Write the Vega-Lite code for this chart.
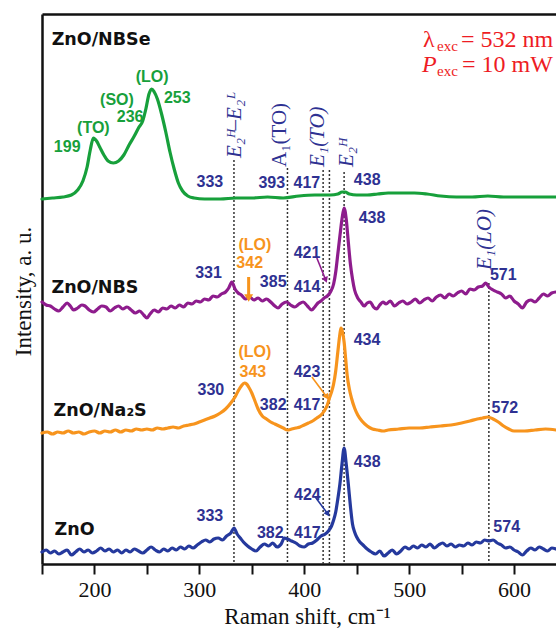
{
"$schema": "https://vega.github.io/schema/vega-lite/v6.json",
"width": 514, "height": 550,
"autosize": {"type": "none"},
"padding": {"left": 42, "top": 14, "right": 0, "bottom": 67},
"background": "white",
"config": {"view": {"stroke": null}, "axis": {"grid": false}},
"datasets": {
"spectra": [
{"g":"NBSe","x":150,"y":365},{"g":"NBSe","x":160,"y":366},{"g":"NBSe","x":170,"y":367},{"g":"NBSe","x":178,"y":369},{"g":"NBSe","x":184,"y":374},{"g":"NBSe","x":189,"y":383},{"g":"NBSe","x":193,"y":397},{"g":"NBSe","x":196,"y":414},{"g":"NBSe","x":199,"y":426},{"g":"NBSe","x":202,"y":423},{"g":"NBSe","x":205,"y":417},{"g":"NBSe","x":209,"y":409},{"g":"NBSe","x":213,"y":403},{"g":"NBSe","x":218,"y":401},{"g":"NBSe","x":223,"y":403},{"g":"NBSe","x":228,"y":409},{"g":"NBSe","x":233,"y":419},{"g":"NBSe","x":238,"y":428},{"g":"NBSe","x":242,"y":436},{"g":"NBSe","x":246,"y":443},{"g":"NBSe","x":249,"y":455},{"g":"NBSe","x":252,"y":470},{"g":"NBSe","x":254.5,"y":475},{"g":"NBSe","x":257,"y":472},{"g":"NBSe","x":260,"y":465},{"g":"NBSe","x":264,"y":450},{"g":"NBSe","x":268,"y":432},{"g":"NBSe","x":272,"y":412},{"g":"NBSe","x":276,"y":395},{"g":"NBSe","x":280,"y":381},{"g":"NBSe","x":284,"y":373},{"g":"NBSe","x":289,"y":368},{"g":"NBSe","x":295,"y":366},{"g":"NBSe","x":305,"y":365},{"g":"NBSe","x":320,"y":365},{"g":"NBSe","x":335,"y":366},{"g":"NBSe","x":350,"y":366},{"g":"NBSe","x":365,"y":367},{"g":"NBSe","x":380,"y":366},{"g":"NBSe","x":395,"y":368},{"g":"NBSe","x":410,"y":369},{"g":"NBSe","x":425,"y":369},{"g":"NBSe","x":432,"y":370},{"g":"NBSe","x":436,"y":372},{"g":"NBSe","x":439,"y":372},{"g":"NBSe","x":443,"y":370},{"g":"NBSe","x":450,"y":369},{"g":"NBSe","x":460,"y":369},{"g":"NBSe","x":470,"y":370},{"g":"NBSe","x":480,"y":371},{"g":"NBSe","x":492,"y":371},{"g":"NBSe","x":505,"y":371},{"g":"NBSe","x":517,"y":370},{"g":"NBSe","x":530,"y":368},{"g":"NBSe","x":545,"y":367},{"g":"NBSe","x":560,"y":367},{"g":"NBSe","x":575,"y":368},{"g":"NBSe","x":590,"y":367},{"g":"NBSe","x":605,"y":367},{"g":"NBSe","x":620,"y":367},{"g":"NBSe","x":640,"y":367},
{"g":"NBS","x":150,"y":262},{"g":"NBS","x":154,"y":259},{"g":"NBS","x":158,"y":258},{"g":"NBS","x":162,"y":255},{"g":"NBS","x":166,"y":253},{"g":"NBS","x":170,"y":257},{"g":"NBS","x":174,"y":261},{"g":"NBS","x":177,"y":258},{"g":"NBS","x":180,"y":254},{"g":"NBS","x":184,"y":256},{"g":"NBS","x":188,"y":259},{"g":"NBS","x":191,"y":258},{"g":"NBS","x":195,"y":254},{"g":"NBS","x":199,"y":252},{"g":"NBS","x":203,"y":255},{"g":"NBS","x":207,"y":258},{"g":"NBS","x":211,"y":257},{"g":"NBS","x":215,"y":253},{"g":"NBS","x":219,"y":256},{"g":"NBS","x":223,"y":258},{"g":"NBS","x":227,"y":255},{"g":"NBS","x":231,"y":257},{"g":"NBS","x":235,"y":254},{"g":"NBS","x":239,"y":251},{"g":"NBS","x":243,"y":253},{"g":"NBS","x":247,"y":249},{"g":"NBS","x":250,"y":246},{"g":"NBS","x":253,"y":250},{"g":"NBS","x":257,"y":254},{"g":"NBS","x":261,"y":252},{"g":"NBS","x":265,"y":256},{"g":"NBS","x":269,"y":255},{"g":"NBS","x":273,"y":258},{"g":"NBS","x":277,"y":256},{"g":"NBS","x":281,"y":259},{"g":"NBS","x":285,"y":257},{"g":"NBS","x":289,"y":261},{"g":"NBS","x":293,"y":260},{"g":"NBS","x":297,"y":263},{"g":"NBS","x":301,"y":262},{"g":"NBS","x":305,"y":265},{"g":"NBS","x":309,"y":264},{"g":"NBS","x":313,"y":268},{"g":"NBS","x":317,"y":267},{"g":"NBS","x":321,"y":270},{"g":"NBS","x":325,"y":272},{"g":"NBS","x":328,"y":276},{"g":"NBS","x":331,"y":282},{"g":"NBS","x":334,"y":275},{"g":"NBS","x":337,"y":271},{"g":"NBS","x":340,"y":269},{"g":"NBS","x":344,"y":265},{"g":"NBS","x":348,"y":267},{"g":"NBS","x":352,"y":264},{"g":"NBS","x":356,"y":266},{"g":"NBS","x":360,"y":263},{"g":"NBS","x":364,"y":265},{"g":"NBS","x":368,"y":262},{"g":"NBS","x":372,"y":258},{"g":"NBS","x":375,"y":256},{"g":"NBS","x":379,"y":260},{"g":"NBS","x":383,"y":262},{"g":"NBS","x":387,"y":259},{"g":"NBS","x":391,"y":257},{"g":"NBS","x":395,"y":260},{"g":"NBS","x":399,"y":262},{"g":"NBS","x":403,"y":258},{"g":"NBS","x":407,"y":254},{"g":"NBS","x":410,"y":257},{"g":"NBS","x":413,"y":261},{"g":"NBS","x":416,"y":263},{"g":"NBS","x":419,"y":266},{"g":"NBS","x":422,"y":268},{"g":"NBS","x":425,"y":272},{"g":"NBS","x":428,"y":280},{"g":"NBS","x":430,"y":292},{"g":"NBS","x":432,"y":310},{"g":"NBS","x":434,"y":328},{"g":"NBS","x":436,"y":345},{"g":"NBS","x":438,"y":356},{"g":"NBS","x":440,"y":345},{"g":"NBS","x":442,"y":322},{"g":"NBS","x":444,"y":300},{"g":"NBS","x":446,"y":285},{"g":"NBS","x":448,"y":274},{"g":"NBS","x":451,"y":266},{"g":"NBS","x":454,"y":262},{"g":"NBS","x":457,"y":258},{"g":"NBS","x":460,"y":261},{"g":"NBS","x":463,"y":262},{"g":"NBS","x":466,"y":257},{"g":"NBS","x":469,"y":255},{"g":"NBS","x":472,"y":259},{"g":"NBS","x":475,"y":262},{"g":"NBS","x":478,"y":260},{"g":"NBS","x":482,"y":263},{"g":"NBS","x":486,"y":258},{"g":"NBS","x":490,"y":261},{"g":"NBS","x":494,"y":263},{"g":"NBS","x":498,"y":260},{"g":"NBS","x":502,"y":262},{"g":"NBS","x":506,"y":265},{"g":"NBS","x":510,"y":261},{"g":"NBS","x":514,"y":264},{"g":"NBS","x":518,"y":266},{"g":"NBS","x":522,"y":263},{"g":"NBS","x":526,"y":267},{"g":"NBS","x":530,"y":269},{"g":"NBS","x":534,"y":266},{"g":"NBS","x":538,"y":270},{"g":"NBS","x":542,"y":268},{"g":"NBS","x":546,"y":271},{"g":"NBS","x":550,"y":273},{"g":"NBS","x":554,"y":270},{"g":"NBS","x":558,"y":275},{"g":"NBS","x":562,"y":274},{"g":"NBS","x":566,"y":277},{"g":"NBS","x":570,"y":278},{"g":"NBS","x":573,"y":281},{"g":"NBS","x":576,"y":277},{"g":"NBS","x":580,"y":274},{"g":"NBS","x":584,"y":272},{"g":"NBS","x":588,"y":270},{"g":"NBS","x":592,"y":266},{"g":"NBS","x":596,"y":268},{"g":"NBS","x":600,"y":263},{"g":"NBS","x":604,"y":260},{"g":"NBS","x":608,"y":256},{"g":"NBS","x":612,"y":262},{"g":"NBS","x":616,"y":264},{"g":"NBS","x":620,"y":262},{"g":"NBS","x":624,"y":266},{"g":"NBS","x":628,"y":270},{"g":"NBS","x":632,"y":268},{"g":"NBS","x":636,"y":271},{"g":"NBS","x":640,"y":272},
{"g":"Na2S","x":150,"y":131},{"g":"Na2S","x":155,"y":132},{"g":"Na2S","x":160,"y":130},{"g":"Na2S","x":165,"y":132},{"g":"Na2S","x":170,"y":131},{"g":"Na2S","x":175,"y":133},{"g":"Na2S","x":180,"y":131},{"g":"Na2S","x":185,"y":132},{"g":"Na2S","x":190,"y":130},{"g":"Na2S","x":195,"y":132},{"g":"Na2S","x":200,"y":133},{"g":"Na2S","x":205,"y":131},{"g":"Na2S","x":210,"y":133},{"g":"Na2S","x":215,"y":132},{"g":"Na2S","x":220,"y":134},{"g":"Na2S","x":225,"y":132},{"g":"Na2S","x":230,"y":134},{"g":"Na2S","x":235,"y":133},{"g":"Na2S","x":240,"y":135},{"g":"Na2S","x":245,"y":134},{"g":"Na2S","x":250,"y":135},{"g":"Na2S","x":255,"y":134},{"g":"Na2S","x":260,"y":136},{"g":"Na2S","x":265,"y":135},{"g":"Na2S","x":270,"y":136},{"g":"Na2S","x":275,"y":137},{"g":"Na2S","x":280,"y":136},{"g":"Na2S","x":285,"y":138},{"g":"Na2S","x":290,"y":139},{"g":"Na2S","x":295,"y":140},{"g":"Na2S","x":300,"y":142},{"g":"Na2S","x":305,"y":144},{"g":"Na2S","x":310,"y":146},{"g":"Na2S","x":315,"y":148},{"g":"Na2S","x":320,"y":151},{"g":"Na2S","x":325,"y":155},{"g":"Na2S","x":330,"y":161},{"g":"Na2S","x":334,"y":167},{"g":"Na2S","x":337,"y":173},{"g":"Na2S","x":340,"y":178},{"g":"Na2S","x":343,"y":181},{"g":"Na2S","x":345,"y":180},{"g":"Na2S","x":347,"y":177},{"g":"Na2S","x":350,"y":171},{"g":"Na2S","x":353,"y":163},{"g":"Na2S","x":356,"y":155},{"g":"Na2S","x":360,"y":148},{"g":"Na2S","x":364,"y":145},{"g":"Na2S","x":368,"y":142},{"g":"Na2S","x":372,"y":140},{"g":"Na2S","x":376,"y":138},{"g":"Na2S","x":380,"y":136},{"g":"Na2S","x":384,"y":134},{"g":"Na2S","x":388,"y":135},{"g":"Na2S","x":392,"y":136},{"g":"Na2S","x":396,"y":137},{"g":"Na2S","x":400,"y":139},{"g":"Na2S","x":404,"y":141},{"g":"Na2S","x":408,"y":143},{"g":"Na2S","x":412,"y":146},{"g":"Na2S","x":416,"y":149},{"g":"Na2S","x":419,"y":153},{"g":"Na2S","x":422,"y":159},{"g":"Na2S","x":424,"y":166},{"g":"Na2S","x":426,"y":172},{"g":"Na2S","x":428,"y":180},{"g":"Na2S","x":430,"y":193},{"g":"Na2S","x":432,"y":212},{"g":"Na2S","x":434,"y":230},{"g":"Na2S","x":435,"y":236},{"g":"Na2S","x":436.5,"y":232},{"g":"Na2S","x":438,"y":222},{"g":"Na2S","x":439.5,"y":205},{"g":"Na2S","x":441,"y":188},{"g":"Na2S","x":443,"y":175},{"g":"Na2S","x":445,"y":166},{"g":"Na2S","x":448,"y":156},{"g":"Na2S","x":451,"y":149},{"g":"Na2S","x":455,"y":143},{"g":"Na2S","x":460,"y":138},{"g":"Na2S","x":465,"y":135},{"g":"Na2S","x":470,"y":134},{"g":"Na2S","x":475,"y":133},{"g":"Na2S","x":480,"y":134},{"g":"Na2S","x":490,"y":135},{"g":"Na2S","x":500,"y":136},{"g":"Na2S","x":510,"y":136},{"g":"Na2S","x":520,"y":137},{"g":"Na2S","x":530,"y":138},{"g":"Na2S","x":540,"y":139},{"g":"Na2S","x":550,"y":141},{"g":"Na2S","x":558,"y":143},{"g":"Na2S","x":565,"y":145},{"g":"Na2S","x":570,"y":146},{"g":"Na2S","x":575,"y":147},{"g":"Na2S","x":580,"y":145},{"g":"Na2S","x":585,"y":142},{"g":"Na2S","x":590,"y":138},{"g":"Na2S","x":595,"y":135},{"g":"Na2S","x":600,"y":133},{"g":"Na2S","x":610,"y":133},{"g":"Na2S","x":620,"y":134},{"g":"Na2S","x":630,"y":135},{"g":"Na2S","x":640,"y":134},
{"g":"ZnO","x":150,"y":12},{"g":"ZnO","x":154,"y":14},{"g":"ZnO","x":158,"y":11},{"g":"ZnO","x":162,"y":13},{"g":"ZnO","x":166,"y":10},{"g":"ZnO","x":170,"y":12},{"g":"ZnO","x":174,"y":14},{"g":"ZnO","x":178,"y":9},{"g":"ZnO","x":182,"y":12},{"g":"ZnO","x":186,"y":15},{"g":"ZnO","x":190,"y":12},{"g":"ZnO","x":194,"y":14},{"g":"ZnO","x":198,"y":11},{"g":"ZnO","x":202,"y":13},{"g":"ZnO","x":206,"y":16},{"g":"ZnO","x":210,"y":13},{"g":"ZnO","x":214,"y":15},{"g":"ZnO","x":218,"y":12},{"g":"ZnO","x":222,"y":14},{"g":"ZnO","x":226,"y":11},{"g":"ZnO","x":230,"y":14},{"g":"ZnO","x":234,"y":12},{"g":"ZnO","x":238,"y":15},{"g":"ZnO","x":242,"y":13},{"g":"ZnO","x":246,"y":11},{"g":"ZnO","x":250,"y":14},{"g":"ZnO","x":254,"y":17},{"g":"ZnO","x":258,"y":14},{"g":"ZnO","x":262,"y":12},{"g":"ZnO","x":266,"y":15},{"g":"ZnO","x":270,"y":13},{"g":"ZnO","x":274,"y":16},{"g":"ZnO","x":278,"y":14},{"g":"ZnO","x":282,"y":17},{"g":"ZnO","x":286,"y":15},{"g":"ZnO","x":290,"y":18},{"g":"ZnO","x":294,"y":16},{"g":"ZnO","x":298,"y":19},{"g":"ZnO","x":302,"y":22},{"g":"ZnO","x":306,"y":24},{"g":"ZnO","x":310,"y":22},{"g":"ZnO","x":314,"y":25},{"g":"ZnO","x":318,"y":26},{"g":"ZnO","x":322,"y":24},{"g":"ZnO","x":326,"y":28},{"g":"ZnO","x":330,"y":31},{"g":"ZnO","x":333,"y":36},{"g":"ZnO","x":336,"y":30},{"g":"ZnO","x":339,"y":26},{"g":"ZnO","x":342,"y":22},{"g":"ZnO","x":346,"y":18},{"g":"ZnO","x":350,"y":15},{"g":"ZnO","x":354,"y":13},{"g":"ZnO","x":358,"y":17},{"g":"ZnO","x":362,"y":20},{"g":"ZnO","x":366,"y":18},{"g":"ZnO","x":370,"y":21},{"g":"ZnO","x":374,"y":17},{"g":"ZnO","x":378,"y":20},{"g":"ZnO","x":381,"y":26},{"g":"ZnO","x":384,"y":25},{"g":"ZnO","x":388,"y":23},{"g":"ZnO","x":392,"y":21},{"g":"ZnO","x":396,"y":18},{"g":"ZnO","x":400,"y":17},{"g":"ZnO","x":404,"y":20},{"g":"ZnO","x":408,"y":21},{"g":"ZnO","x":412,"y":24},{"g":"ZnO","x":416,"y":28},{"g":"ZnO","x":420,"y":30},{"g":"ZnO","x":423,"y":33},{"g":"ZnO","x":426,"y":38},{"g":"ZnO","x":428,"y":44},{"g":"ZnO","x":430,"y":52},{"g":"ZnO","x":432,"y":65},{"g":"ZnO","x":434,"y":80},{"g":"ZnO","x":436,"y":100},{"g":"ZnO","x":438,"y":116},{"g":"ZnO","x":440,"y":100},{"g":"ZnO","x":442,"y":80},{"g":"ZnO","x":444,"y":58},{"g":"ZnO","x":446,"y":40},{"g":"ZnO","x":448,"y":32},{"g":"ZnO","x":450,"y":27},{"g":"ZnO","x":453,"y":22},{"g":"ZnO","x":456,"y":19},{"g":"ZnO","x":460,"y":15},{"g":"ZnO","x":464,"y":12},{"g":"ZnO","x":468,"y":10},{"g":"ZnO","x":472,"y":13},{"g":"ZnO","x":476,"y":8},{"g":"ZnO","x":480,"y":11},{"g":"ZnO","x":484,"y":14},{"g":"ZnO","x":488,"y":10},{"g":"ZnO","x":492,"y":13},{"g":"ZnO","x":496,"y":17},{"g":"ZnO","x":500,"y":15},{"g":"ZnO","x":504,"y":18},{"g":"ZnO","x":508,"y":16},{"g":"ZnO","x":512,"y":19},{"g":"ZnO","x":516,"y":17},{"g":"ZnO","x":520,"y":20},{"g":"ZnO","x":524,"y":16},{"g":"ZnO","x":528,"y":19},{"g":"ZnO","x":532,"y":21},{"g":"ZnO","x":536,"y":18},{"g":"ZnO","x":540,"y":20},{"g":"ZnO","x":544,"y":17},{"g":"ZnO","x":548,"y":19},{"g":"ZnO","x":552,"y":18},{"g":"ZnO","x":556,"y":21},{"g":"ZnO","x":560,"y":19},{"g":"ZnO","x":564,"y":22},{"g":"ZnO","x":568,"y":21},{"g":"ZnO","x":572,"y":24},{"g":"ZnO","x":576,"y":23},{"g":"ZnO","x":580,"y":24},{"g":"ZnO","x":584,"y":21},{"g":"ZnO","x":588,"y":19},{"g":"ZnO","x":592,"y":16},{"g":"ZnO","x":596,"y":17},{"g":"ZnO","x":600,"y":14},{"g":"ZnO","x":604,"y":12},{"g":"ZnO","x":608,"y":9},{"g":"ZnO","x":612,"y":13},{"g":"ZnO","x":616,"y":16},{"g":"ZnO","x":620,"y":14},{"g":"ZnO","x":624,"y":17},{"g":"ZnO","x":628,"y":15},{"g":"ZnO","x":632,"y":13},{"g":"ZnO","x":636,"y":16},{"g":"ZnO","x":640,"y":15}
],
"modes": [
{"x":333,"top":404},{"x":384,"top":396},{"x":418,"top":394},{"x":424,"top":394},{"x":438,"top":392},{"x":576,"top":281}
],
"labels": [
{"kind":"num","g":"mode","t":"333","x":310,"y":382},{"kind":"num","g":"mode","t":"393","x":369,"y":381},{"kind":"num","g":"mode","t":"417","x":402.5,"y":381},{"kind":"num","g":"mode","t":"438","x":460,"y":384},
{"kind":"num","g":"mode","t":"331","x":308.7,"y":291},{"kind":"num","g":"mode","t":"385","x":370.4,"y":282},{"kind":"num","g":"mode","t":"414","x":402.6,"y":277},{"kind":"num","g":"mode","t":"421","x":402.6,"y":311},{"kind":"num","g":"mode","t":"438","x":464.6,"y":346},{"kind":"num","g":"mode","t":"571","x":589.7,"y":289},
{"kind":"num","g":"mode","t":"330","x":311,"y":174},{"kind":"num","g":"mode","t":"382","x":370.4,"y":159},{"kind":"num","g":"mode","t":"417","x":402.6,"y":159},{"kind":"num","g":"mode","t":"423","x":402.6,"y":192},{"kind":"num","g":"mode","t":"434","x":459.8,"y":224},{"kind":"num","g":"mode","t":"572","x":591.3,"y":156},
{"kind":"num","g":"mode","t":"333","x":310,"y":48},{"kind":"num","g":"mode","t":"382","x":367.6,"y":31},{"kind":"num","g":"mode","t":"417","x":403,"y":31},{"kind":"num","g":"mode","t":"424","x":403,"y":69},{"kind":"num","g":"mode","t":"438","x":460,"y":102},{"kind":"num","g":"mode","t":"574","x":593,"y":37},
{"kind":"num","g":"NBSe","t":"(TO)","x":199,"y":436},{"kind":"num","g":"NBSe","t":"199","x":174,"y":417},{"kind":"num","g":"NBSe","t":"(SO)","x":221.5,"y":464},{"kind":"num","g":"NBSe","t":"236","x":234,"y":447},{"kind":"num","g":"NBSe","t":"(LO)","x":255,"y":487},{"kind":"num","g":"NBSe","t":"253","x":279,"y":466},
{"kind":"num","g":"Na2S","t":"(LO)","x":353,"y":319},{"kind":"num","g":"Na2S","t":"342","x":348,"y":301},{"kind":"num","g":"Na2S","t":"(LO)","x":353,"y":212},{"kind":"num","g":"Na2S","t":"343","x":351,"y":192},
{"kind":"name","g":"sample","t":"ZnO/NBSe","x":159.2,"y":524},{"kind":"name","g":"sample","t":"ZnO/NBS","x":159,"y":276},{"kind":"name","g":"sample","t":"ZnO/Na₂S","x":161,"y":153},{"kind":"name","g":"sample","t":"ZnO","x":162,"y":34},
{"kind":"mode_it","g":"mode","t":"E₂ᴴ–E₂ᴸ","x":333.6,"y":406},{"kind":"mode_up","g":"mode","t":"A₁(TO)","x":376.9,"y":397},{"kind":"mode_it","g":"mode","t":"E₁(TO)","x":413,"y":397},{"kind":"mode_it","g":"mode","t":"E₂ᴴ","x":440.5,"y":397},{"kind":"mode_it","g":"mode","t":"E₁(LO)","x":572.3,"y":294},
{"kind":"red_big","g":"red","t":"λ","x":513.2,"y":517.3},{"kind":"red_small","g":"red","t":"exc","x":526.6,"y":513.5},{"kind":"red_big","g":"red","t":"= 532 nm","x":549.4,"y":517.3},
{"kind":"red_it","g":"red","t":"P","x":512.3,"y":492.3},{"kind":"red_small","g":"red","t":"exc","x":526.6,"y":488.5},{"kind":"red_big","g":"red","t":"= 10 mW","x":550.4,"y":492.3}
],
"arrows": [
{"id":"a1","g":"Na2S","x":347,"y":287,"x2":347,"y2":266},
{"id":"a2","g":"NBS","x":412,"y":306,"x2":420.5,"y2":284},
{"id":"a3","g":"Na2S","x":407.3,"y":187,"x2":421.5,"y2":167},
{"id":"a4","g":"ZnO","x":410.5,"y":67,"x2":422.5,"y2":50}
]
},
"resolve": {"axis": {"x": "independent", "y": "independent"}},
"layer": [
{
"data": {"name": "modes"},
"mark": {"type": "rule", "strokeDash": [2, 2], "strokeWidth": 1.5, "color": "#333333"},
"encoding": {
"x": {"field": "x", "type": "quantitative", "scale": {"domain": [150, 640], "nice": false, "zero": false},
"axis": {"orient": "top", "ticks": false, "labels": false, "title": null, "domainColor": "#111111", "domainWidth": 2.5, "grid": false}},
"y": {"field": "top", "type": "quantitative", "scale": {"domain": [0, 550], "nice": false, "zero": false}, "axis": null},
"y2": {"datum": 0}
}
},
{
"data": {"name": "spectra"},
"mark": {"type": "line", "strokeWidth": 3.2, "interpolate": "monotone", "strokeJoin": "round", "strokeCap": "round"},
"encoding": {
"x": {"field": "x", "type": "quantitative",
"axis": {"orient": "bottom", "values": [150, 200, 250, 300, 350, 400, 450, 500, 550, 600],
"labelExpr": "datum.value % 100 === 0 ? datum.label : ''",
"title": "Raman shift, cm⁻¹", "titleFont": "Liberation Serif", "titleFontSize": 23, "titleFontWeight": "normal", "titleColor": "#111111",
"titleX": 265, "titleY": 59, "titleBaseline": "alphabetic",
"labelFont": "Liberation Serif", "labelFontSize": 22, "labelColor": "#111111", "labelPadding": 5, "labelFlush": false, "labelOverlap": false,
"tickSize": 10, "tickWidth": 2, "tickColor": "#111111", "domainColor": "#111111", "domainWidth": 2.5, "grid": false}},
"y": {"field": "y", "type": "quantitative",
"axis": {"orient": "left", "ticks": false, "labels": false, "grid": false, "domainColor": "#111111", "domainWidth": 2.5,
"title": "Intensity, a. u.", "titleFont": "Liberation Serif", "titleFontSize": 23, "titleFontWeight": "normal", "titleColor": "#111111",
"titleX": -19, "titleY": 277, "titleBaseline": "middle", "titleAlign": "center", "titleAngle": -90}},
"color": {"field": "g", "type": "nominal", "legend": null,
"scale": {"domain": ["NBSe", "NBS", "Na2S", "ZnO", "mode", "sample", "red"],
"range": ["#17a03b", "#8e1c8d", "#f7941d", "#25399d", "#2e3192", "#111111", "#ee1c24"]}}
}
},
{
"data": {"name": "arrows"},
"mark": {"type": "rule", "strokeWidth": 1.6},
"encoding": {
"x": {"field": "x", "type": "quantitative", "axis": null},
"y": {"field": "y", "type": "quantitative", "axis": null},
"x2": {"field": "x2"}, "y2": {"field": "y2"},
"color": {"field": "g", "type": "nominal", "legend": null}
}
},
{
"data": {"name": "arrows"},
"transform": [{"filter": "datum.id === 'a1'"}],
"mark": {"type": "rule", "strokeWidth": 3},
"encoding": {
"x": {"field": "x", "type": "quantitative", "axis": null},
"y": {"field": "y", "type": "quantitative", "axis": null},
"x2": {"field": "x2"}, "y2": {"field": "y2"},
"color": {"field": "g", "type": "nominal", "legend": null}
}
},
{
"data": {"name": "arrows"},
"transform": [{"filter": "datum.id === 'a1'"}],
"mark": {"type": "point", "shape": "triangle-down", "filled": true, "size": 80, "opacity": 1},
"encoding": {
"x": {"field": "x2", "type": "quantitative", "axis": null},
"y": {"field": "y2", "type": "quantitative", "axis": null},
"color": {"field": "g", "type": "nominal", "legend": null}
}
},
{
"data": {"name": "arrows"},
"transform": [{"filter": "datum.id === 'a2'"}],
"mark": {"type": "point", "shape": "triangle-down", "filled": true, "size": 45, "opacity": 1, "angle": 339},
"encoding": {
"x": {"field": "x2", "type": "quantitative", "axis": null},
"y": {"field": "y2", "type": "quantitative", "axis": null},
"color": {"field": "g", "type": "nominal", "legend": null}
}
},
{
"data": {"name": "arrows"},
"transform": [{"filter": "datum.id === 'a3' || datum.id === 'a4'"}],
"mark": {"type": "point", "shape": "triangle-down", "filled": true, "size": 45, "opacity": 1, "angle": 328},
"encoding": {
"x": {"field": "x2", "type": "quantitative", "axis": null},
"y": {"field": "y2", "type": "quantitative", "axis": null},
"color": {"field": "g", "type": "nominal", "legend": null}
}
},
{
"data": {"name": "labels"},
"transform": [{"filter": "datum.kind === 'num'"}],
"mark": {"type": "text", "font": "Liberation Sans", "fontWeight": "bold", "fontSize": 16, "align": "center", "baseline": "middle"},
"encoding": {
"x": {"field": "x", "type": "quantitative", "axis": null},
"y": {"field": "y", "type": "quantitative", "axis": null},
"text": {"field": "t"},
"color": {"field": "g", "type": "nominal", "legend": null}
}
},
{
"data": {"name": "labels"},
"transform": [{"filter": "datum.kind === 'name'"}],
"mark": {"type": "text", "font": "DejaVu Sans", "fontWeight": "bold", "fontSize": 17.5, "align": "left", "baseline": "middle"},
"encoding": {
"x": {"field": "x", "type": "quantitative", "axis": null},
"y": {"field": "y", "type": "quantitative", "axis": null},
"text": {"field": "t"},
"color": {"field": "g", "type": "nominal", "legend": null}
}
},
{
"data": {"name": "labels"},
"transform": [{"filter": "datum.kind === 'mode_it'"}],
"mark": {"type": "text", "font": "Liberation Serif", "fontStyle": "italic", "fontSize": 21, "align": "left", "baseline": "middle", "angle": 270},
"encoding": {
"x": {"field": "x", "type": "quantitative", "axis": null},
"y": {"field": "y", "type": "quantitative", "axis": null},
"text": {"field": "t"},
"color": {"field": "g", "type": "nominal", "legend": null}
}
},
{
"data": {"name": "labels"},
"transform": [{"filter": "datum.kind === 'mode_up'"}],
"mark": {"type": "text", "font": "Liberation Serif", "fontSize": 21, "align": "left", "baseline": "middle", "angle": 270},
"encoding": {
"x": {"field": "x", "type": "quantitative", "axis": null},
"y": {"field": "y", "type": "quantitative", "axis": null},
"text": {"field": "t"},
"color": {"field": "g", "type": "nominal", "legend": null}
}
},
{
"data": {"name": "labels"},
"transform": [{"filter": "datum.kind === 'red_big'"}],
"mark": {"type": "text", "font": "Liberation Serif", "fontSize": 24, "align": "left", "baseline": "alphabetic"},
"encoding": {
"x": {"field": "x", "type": "quantitative", "axis": null},
"y": {"field": "y", "type": "quantitative", "axis": null},
"text": {"field": "t"},
"color": {"field": "g", "type": "nominal", "legend": null}
}
},
{
"data": {"name": "labels"},
"transform": [{"filter": "datum.kind === 'red_it'"}],
"mark": {"type": "text", "font": "Liberation Serif", "fontStyle": "italic", "fontSize": 24, "align": "left", "baseline": "alphabetic"},
"encoding": {
"x": {"field": "x", "type": "quantitative", "axis": null},
"y": {"field": "y", "type": "quantitative", "axis": null},
"text": {"field": "t"},
"color": {"field": "g", "type": "nominal", "legend": null}
}
},
{
"data": {"name": "labels"},
"transform": [{"filter": "datum.kind === 'red_small'"}],
"mark": {"type": "text", "font": "Liberation Serif", "fontSize": 15, "align": "left", "baseline": "alphabetic"},
"encoding": {
"x": {"field": "x", "type": "quantitative", "axis": null},
"y": {"field": "y", "type": "quantitative", "axis": null},
"text": {"field": "t"},
"color": {"field": "g", "type": "nominal", "legend": null}
}
}
]
}
